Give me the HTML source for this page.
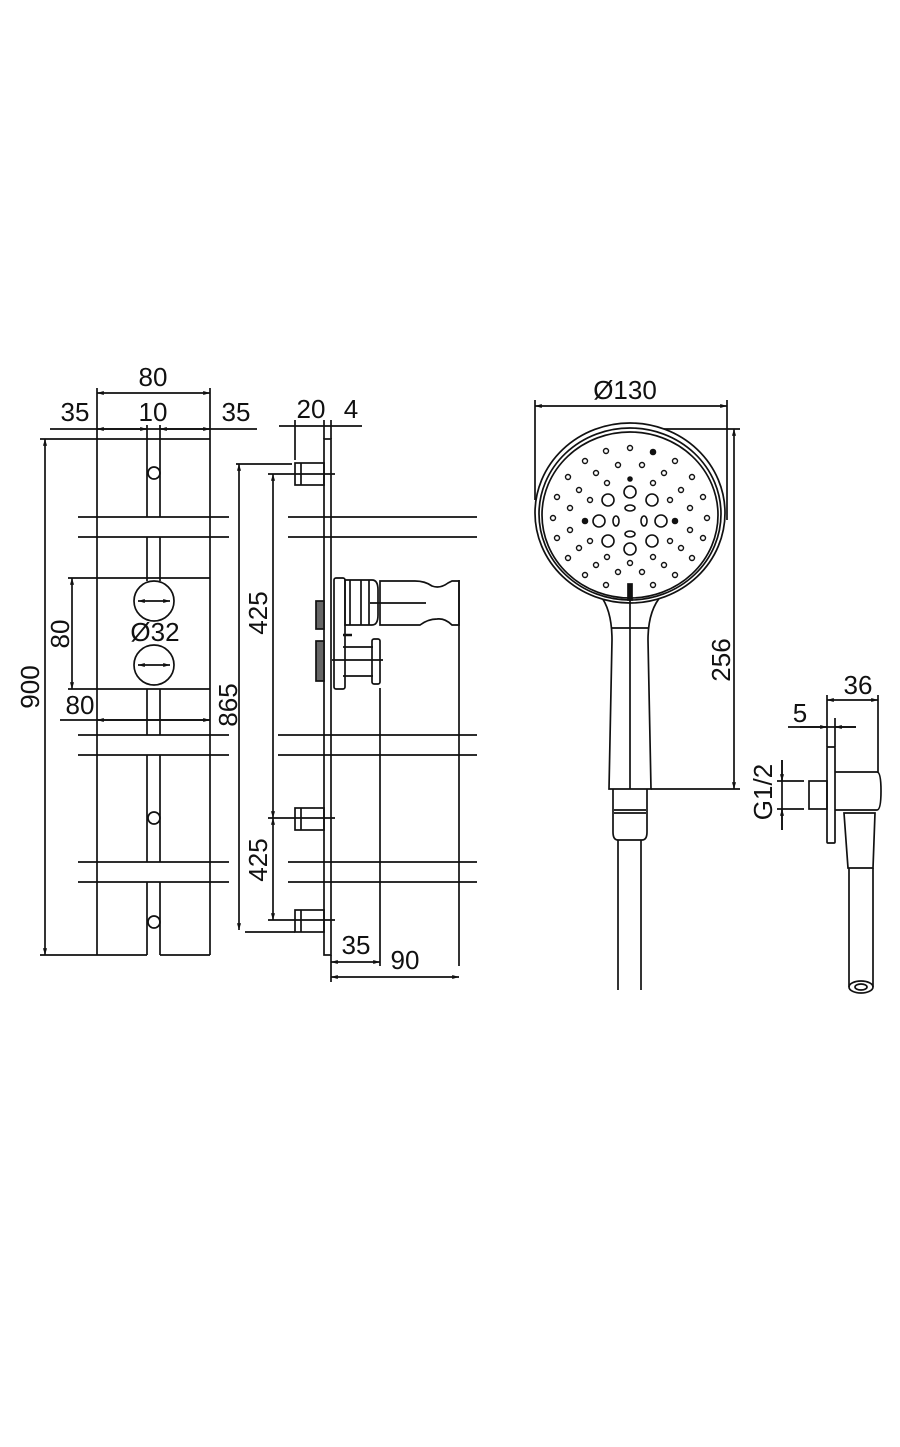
<!DOCTYPE html>
<html><head><meta charset="utf-8"><style>
html,body{margin:0;padding:0;background:#fff;}
svg{display:block;}
text{font-family:"Liberation Sans",sans-serif;font-size:26px;fill:#111;}
</style></head><body>
<svg width="900" height="1447" viewBox="0 0 900 1447" xmlns="http://www.w3.org/2000/svg">
<defs>
<marker id="a" viewBox="0 0 10 10" refX="10" refY="5" markerWidth="6" markerHeight="4" orient="auto-start-reverse"><path d="M0,2 L10,5 L0,8 z" fill="#111"/></marker>
</defs>
<g stroke="#111" stroke-width="1.7" fill="none">
<!-- FRONT VIEW -->
<line x1="40" y1="439" x2="210" y2="439"/>
<line x1="97" y1="439" x2="97" y2="955"/>
<line x1="210" y1="388" x2="210" y2="955"/>
<line x1="97" y1="388" x2="97" y2="439"/>
<line x1="40" y1="955" x2="147" y2="955"/>
<line x1="160" y1="955" x2="210" y2="955"/>
<line x1="147" y1="425" x2="147" y2="517"/><line x1="160" y1="425" x2="160" y2="517"/>
<line x1="147" y1="537" x2="147" y2="581"/><line x1="160" y1="537" x2="160" y2="581"/>
<line x1="147" y1="689" x2="147" y2="735"/><line x1="160" y1="689" x2="160" y2="735"/>
<line x1="147" y1="755" x2="147" y2="862"/><line x1="160" y1="755" x2="160" y2="862"/>
<line x1="147" y1="882" x2="147" y2="955"/><line x1="160" y1="882" x2="160" y2="955"/>
<circle cx="154" cy="473" r="6"/><circle cx="154" cy="818" r="6"/><circle cx="154" cy="922" r="6"/>
<line x1="78" y1="517" x2="229" y2="517"/><line x1="78" y1="537" x2="229" y2="537"/>
<line x1="78" y1="735" x2="229" y2="735"/><line x1="78" y1="755" x2="229" y2="755"/>
<line x1="78" y1="862" x2="229" y2="862"/><line x1="78" y1="882" x2="229" y2="882"/>
<circle cx="154" cy="601" r="20"/><line x1="138" y1="601" x2="170" y2="601" marker-start="url(#a)" marker-end="url(#a)"/>
<circle cx="154" cy="665" r="20"/><line x1="138" y1="665" x2="170" y2="665" marker-start="url(#a)" marker-end="url(#a)"/>
<line x1="68" y1="578" x2="210" y2="578"/><line x1="68" y1="689" x2="210" y2="689"/>
<line x1="72" y1="578" x2="72" y2="689" marker-start="url(#a)" marker-end="url(#a)"/>
<line x1="60" y1="720" x2="210" y2="720"/>
<line x1="97" y1="720" x2="210" y2="720" marker-start="url(#a)" marker-end="url(#a)"/>
<line x1="45" y1="439" x2="45" y2="955" marker-start="url(#a)" marker-end="url(#a)"/>
<line x1="97" y1="393" x2="210" y2="393" marker-start="url(#a)" marker-end="url(#a)"/>
<line x1="50" y1="429" x2="257" y2="429"/>
<line x1="97" y1="429" x2="147" y2="429" marker-start="url(#a)" marker-end="url(#a)"/>
<line x1="160" y1="429" x2="210" y2="429" marker-start="url(#a)" marker-end="url(#a)"/>
<!-- SIDE VIEW -->
<rect x="324" y="439" width="7" height="516"/>
<rect x="295" y="463" width="29" height="22"/><line x1="301" y1="463" x2="301" y2="485"/>
<rect x="295" y="808" width="29" height="22"/><line x1="301" y1="808" x2="301" y2="830"/>
<rect x="295" y="910" width="29" height="22"/><line x1="301" y1="910" x2="301" y2="932"/>
<line x1="236" y1="464" x2="292" y2="464"/>
<line x1="268" y1="474" x2="335" y2="474"/>
<line x1="268" y1="818" x2="335" y2="818"/>
<line x1="268" y1="920" x2="335" y2="920"/>
<line x1="245" y1="932" x2="295" y2="932"/>
<line x1="239" y1="464" x2="239" y2="930" marker-start="url(#a)" marker-end="url(#a)"/>
<line x1="273" y1="474" x2="273" y2="818" marker-start="url(#a)" marker-end="url(#a)"/>
<line x1="273" y1="818" x2="273" y2="920" marker-start="url(#a)" marker-end="url(#a)"/>
<line x1="279" y1="426" x2="362" y2="426"/>
<line x1="295" y1="420" x2="295" y2="460"/>
<line x1="324" y1="420" x2="324" y2="439"/><line x1="331" y1="420" x2="331" y2="439"/>
<line x1="288" y1="517" x2="477" y2="517"/><line x1="288" y1="537" x2="477" y2="537"/>
<line x1="278" y1="735" x2="477" y2="735"/><line x1="278" y1="755" x2="477" y2="755"/>
<line x1="288" y1="862" x2="477" y2="862"/><line x1="288" y1="882" x2="477" y2="882"/>
<line x1="380" y1="688" x2="380" y2="966"/>
<line x1="459" y1="580" x2="459" y2="966"/>
<line x1="331" y1="962" x2="380" y2="962" marker-start="url(#a)" marker-end="url(#a)"/>
<line x1="331" y1="977" x2="459" y2="977" marker-start="url(#a)" marker-end="url(#a)"/>
<line x1="331" y1="955" x2="331" y2="982"/>
<rect x="334" y="578" width="11" height="111" rx="2"/>
<rect x="316" y="601" width="8" height="28" fill="#666"/>
<rect x="316" y="641" width="8" height="40" fill="#666"/>
<path d="M345,580 H372 Q378,580 378,590 V615 Q378,625 372,625 H345 Z"/>
<line x1="350" y1="580" x2="350" y2="625"/><line x1="361" y1="580" x2="361" y2="625"/><line x1="369" y1="580" x2="369" y2="625"/>
<path d="M380,581 H415 Q425,581 432,586 Q440,589 448,583 L452,581 H459 V625 H452 Q445,618 437,619 Q428,619 420,625 H380 Z"/>
<line x1="370" y1="603" x2="426" y2="603"/>
<line x1="343" y1="635" x2="352" y2="635" stroke-width="2.5"/>
<line x1="343" y1="647" x2="373" y2="647"/><line x1="332" y1="660" x2="383" y2="660"/><line x1="343" y1="676" x2="373" y2="676"/>
<rect x="372" y="639" width="8" height="45" rx="2"/>
<!-- HAND SHOWER -->
<line x1="535" y1="400" x2="535" y2="500"/>
<line x1="727" y1="400" x2="727" y2="520"/>
<line x1="535" y1="406" x2="727" y2="406" marker-start="url(#a)" marker-end="url(#a)"/>
<line x1="650" y1="429" x2="740" y2="429"/>
<line x1="734" y1="429" x2="734" y2="789" marker-start="url(#a)" marker-end="url(#a)"/>
<line x1="651" y1="789" x2="740" y2="789"/>
<path d="M600,595 Q612,610 612,640 L609,789 H651 L648,640 Q648,610 662,595"/>
<ellipse cx="630" cy="513" rx="95" ry="90" fill="#fff"/>
<ellipse cx="630" cy="514" rx="91" ry="86"/>
<ellipse cx="630" cy="515" rx="88" ry="83"/>
<line x1="612" y1="628" x2="648" y2="628"/>
<line x1="630" y1="598" x2="630" y2="789"/>
<rect x="628" y="584" width="4" height="16" fill="#111"/>
<path d="M613,789 V832 Q613,840 618,840 H642 Q647,840 647,832 V789"/>
<line x1="614" y1="810" x2="646" y2="810"/><line x1="614" y1="813" x2="646" y2="813"/>
<line x1="618" y1="840" x2="618" y2="990"/><line x1="641" y1="840" x2="641" y2="990"/>
<g stroke-width="1.6">
<circle cx="630" cy="492" r="6"/><circle cx="630" cy="549" r="6"/>
<circle cx="599" cy="521" r="6"/><circle cx="661" cy="521" r="6"/>
<circle cx="608" cy="500" r="6"/><circle cx="652" cy="500" r="6"/>
<circle cx="608" cy="541" r="6"/><circle cx="652" cy="541" r="6"/>
<ellipse cx="630" cy="508" rx="5" ry="3"/><ellipse cx="630" cy="534" rx="5" ry="3"/>
<ellipse cx="616" cy="521" rx="3" ry="5"/><ellipse cx="644" cy="521" rx="3" ry="5"/>
<circle cx="630" cy="479" r="2" fill="#111"/><circle cx="585" cy="521" r="2.5" fill="#111"/><circle cx="675" cy="521" r="2.5" fill="#111"/>
<circle cx="653" cy="452" r="2.5" fill="#111"/>
</g>
<g stroke-width="1.4">
<circle cx="553" cy="518" r="2.5"/><circle cx="707" cy="518" r="2.5"/>
<circle cx="557" cy="497" r="2.5"/><circle cx="703" cy="497" r="2.5"/>
<circle cx="557" cy="538" r="2.5"/><circle cx="703" cy="538" r="2.5"/>
<circle cx="568" cy="477" r="2.5"/><circle cx="692" cy="477" r="2.5"/>
<circle cx="568" cy="558" r="2.5"/><circle cx="692" cy="558" r="2.5"/>
<circle cx="585" cy="461" r="2.5"/><circle cx="675" cy="461" r="2.5"/>
<circle cx="585" cy="575" r="2.5"/><circle cx="675" cy="575" r="2.5"/>
<circle cx="606" cy="451" r="2.5"/><circle cx="630" cy="448" r="2.5"/>
<circle cx="606" cy="585" r="2.5"/><circle cx="653" cy="585" r="2.5"/>
<circle cx="570" cy="508" r="2.5"/><circle cx="690" cy="508" r="2.5"/>
<circle cx="570" cy="530" r="2.5"/><circle cx="690" cy="530" r="2.5"/>
<circle cx="579" cy="490" r="2.5"/><circle cx="681" cy="490" r="2.5"/>
<circle cx="579" cy="548" r="2.5"/><circle cx="681" cy="548" r="2.5"/>
<circle cx="596" cy="473" r="2.5"/><circle cx="664" cy="473" r="2.5"/>
<circle cx="596" cy="565" r="2.5"/><circle cx="664" cy="565" r="2.5"/>
<circle cx="618" cy="465" r="2.5"/><circle cx="642" cy="465" r="2.5"/>
<circle cx="618" cy="572" r="2.5"/><circle cx="642" cy="572" r="2.5"/>
<circle cx="590" cy="500" r="2.5"/><circle cx="670" cy="500" r="2.5"/>
<circle cx="590" cy="541" r="2.5"/><circle cx="670" cy="541" r="2.5"/>
<circle cx="607" cy="483" r="2.5"/><circle cx="653" cy="483" r="2.5"/>
<circle cx="607" cy="557" r="2.5"/><circle cx="653" cy="557" r="2.5"/>
<circle cx="630" cy="563" r="2.5"/>
</g>
<!-- wall elbow -->
<line x1="827" y1="695" x2="827" y2="747"/>
<line x1="878" y1="695" x2="878" y2="772"/>
<line x1="827" y1="700" x2="878" y2="700" marker-start="url(#a)" marker-end="url(#a)"/>
<line x1="788" y1="727" x2="856" y2="727"/>
<line x1="835" y1="718" x2="835" y2="747"/>
<line x1="800" y1="727" x2="827" y2="727" marker-end="url(#a)"/>
<line x1="856" y1="727" x2="835" y2="727" marker-end="url(#a)"/>
<line x1="782" y1="760" x2="782" y2="830"/>
<line x1="777" y1="781" x2="804" y2="781"/><line x1="777" y1="809" x2="804" y2="809"/>
<line x1="782" y1="760" x2="782" y2="781" marker-end="url(#a)"/>
<line x1="782" y1="830" x2="782" y2="809" marker-end="url(#a)"/>
<rect x="827" y="747" width="8" height="96" rx="1"/>
<path d="M835,772 H877 Q881,772 881,791 Q881,810 877,810 H835"/>
<rect x="809" y="781" width="18" height="28"/>
<path d="M844,813 H875 L873,868 H848 Z"/>
<line x1="849" y1="868" x2="849" y2="987"/><line x1="873" y1="868" x2="873" y2="987"/>
<ellipse cx="861" cy="987" rx="12" ry="6"/><ellipse cx="861" cy="987" rx="6" ry="3"/>
</g>
<g>
<text x="153" y="386" text-anchor="middle">80</text>
<text x="75" y="421" text-anchor="middle">35</text>
<text x="153" y="421" text-anchor="middle">10</text>
<text x="236" y="421" text-anchor="middle">35</text>
<text x="155" y="641" text-anchor="middle">Ø32</text>
<text x="80" y="714" text-anchor="middle">80</text>
<text transform="translate(69,634) rotate(-90)" text-anchor="middle">80</text>
<text transform="translate(39,687) rotate(-90)" text-anchor="middle">900</text>
<text transform="translate(237,705) rotate(-90)" text-anchor="middle">865</text>
<text transform="translate(267,613) rotate(-90)" text-anchor="middle">425</text>
<text transform="translate(267,860) rotate(-90)" text-anchor="middle">425</text>
<text x="311" y="418" text-anchor="middle">20</text>
<text x="351" y="418" text-anchor="middle">4</text>
<text x="356" y="954" text-anchor="middle">35</text>
<text x="405" y="969" text-anchor="middle">90</text>
<text x="625" y="399" text-anchor="middle">Ø130</text>
<text transform="translate(730,660) rotate(-90)" text-anchor="middle">256</text>
<text x="858" y="694" text-anchor="middle">36</text>
<text x="800" y="722" text-anchor="middle">5</text>
<text transform="translate(772,792) rotate(-90)" text-anchor="middle">G1/2</text>
</g>
</svg>
</body></html>
